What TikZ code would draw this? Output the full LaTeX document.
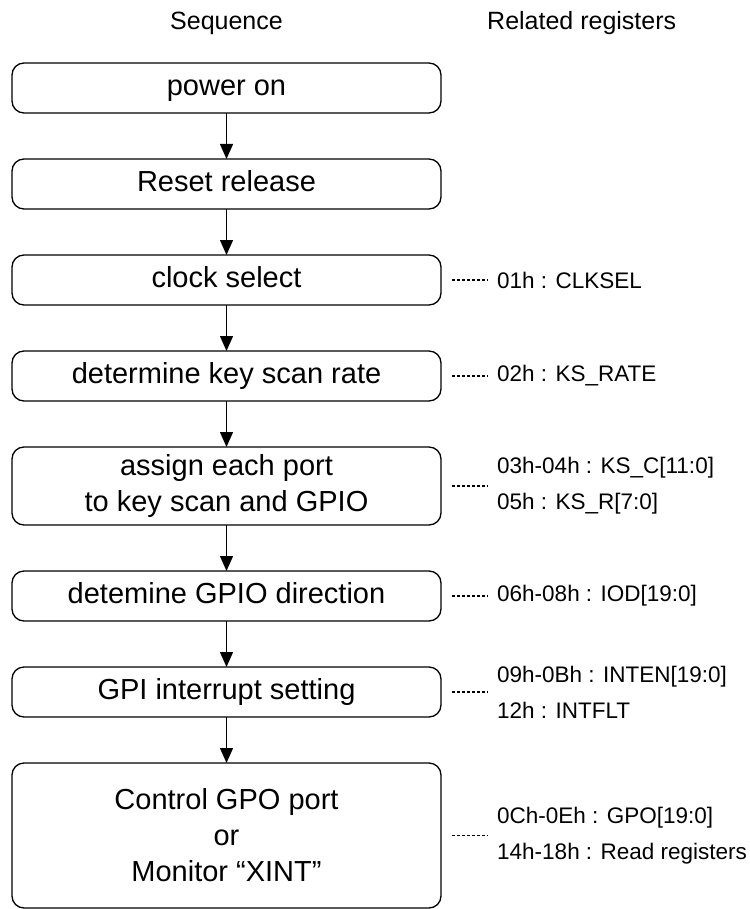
\documentclass[tikz,border=0pt]{standalone}
\usepackage{fontspec}
\setmainfont{Liberation Sans}
\usetikzlibrary{positioning,arrows.meta}

\tikzset{
    seqbox/.style={draw, rounded corners=12pt, line width=1.3pt, minimum width=429pt, minimum height=50pt, inner sep=0pt, outer sep=0pt, align=center, font=\fontsize{29}{36}\selectfont},
    oneline/.style={seqbox, text height=22pt, text depth=7pt},
    reg/.style={inner sep=0pt, align=left, font=\fontsize{22.5}{36}\selectfont},
    head/.style={inner sep=0pt, font=\fontsize{25}{30}\selectfont},
    flow/.style={-{Triangle[length=15pt,width=13pt]}, line width=1.3pt},
    regline/.style={line width=1.5pt, dash pattern=on 3pt off 2pt, shorten <=11pt, shorten >=9pt},
}

\begin{document}
\begin{tikzpicture}[x=1pt, y=1pt]
    \useasboundingbox (0,0) rectangle (749,-909);

    \node[head, anchor=base](hseq) at (226.5,-30){Sequence};
    \node[head, anchor=base west](hreg) at (487,-30){Related registers};

    \node[oneline](b1) at (226.5,-88){power on};
    \node[oneline, below=46pt of b1](b2){Reset release};
    \node[oneline, below=46pt of b2](b3){clock select};
    \node[oneline, below=46pt of b3](b4){determine key scan rate};
    \node[seqbox, below=46pt of b4, minimum height=78pt](b5){assign each port\\to key scan and GPIO};
    \node[oneline, below=46pt of b5](b6){detemine GPIO direction};
    \node[oneline, below=46pt of b6](b7){GPI interrupt setting};
    \node[seqbox, below=46pt of b7, minimum height=145pt](b8){Control GPO port\\or\\Monitor “XINT”};

    \foreach \a/\b in {b1/b2, b2/b3, b3/b4, b4/b5, b5/b6, b6/b7, b7/b8}
        \draw[flow](\a)--(\b);

    \node[reg, right=56pt of b3](r3){01h : CLKSEL};
    \node[reg, right=56pt of b4](r4){02h : KS\_RATE};
    \node[reg, right=56pt of b5](r5){03h-04h : KS\_C[11:0]\\05h : KS\_R[7:0]};
    \node[reg, right=56pt of b6](r6){06h-08h : IOD[19:0]};
    \node[reg, right=56pt of b7](r7){09h-0Bh : INTEN[19:0]\\12h : INTFLT};
    \node[reg, right=56pt of b8](r8){0Ch-0Eh : GPO[19:0]\\14h-18h : Read registers};

    \foreach \n in {3,...,8}
        \draw[regline](b\n.east)--(b\n.east -| r\n.west);
\end{tikzpicture}
\end{document}
